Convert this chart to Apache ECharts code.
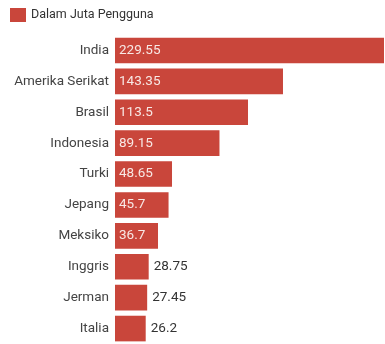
<!DOCTYPE html>
<html>
<head>
<meta charset="utf-8">
<script src="https://cdn.jsdelivr.net/npm/echarts@6/dist/echarts.min.js"></script>
<style>html,body{margin:0;padding:0;background:#fff;}#c{width:385px;height:344px;}</style>
</head>
<body>
<div id="c"></div>
<script>
const categories = ["India","Amerika Serikat","Brasil","Indonesia","Turki","Jepang","Meksiko","Inggris","Jerman","Italia"];
const values = [229.55,143.35,113.5,89.15,48.65,45.7,36.7,28.75,27.45,26.2];
const seriesName = "Dalam Juta Pengguna";
const insideThreshold = 30;

const chart = echarts.init(document.getElementById('c'), null, {renderer:'canvas'});
const data = values.map(v => ({
  value: v,
  label: v > insideThreshold
    ? {position:'insideLeft', color:'#f8e8e5', distance:4}
    : {position:'right', color:'#333', distance:5}
}));
chart.setOption({
  animation:false,
  legend:{
    data:[seriesName], left:5, top:3, itemWidth:16, itemHeight:14, itemGap:6,
    textStyle:{fontSize:12.5, color:'#333', fontFamily:'Roboto'}, icon:'rect'
  },
  grid:{left:115, right:1, top:35, height:312, containLabel:false},
  xAxis:{type:'value', min:0, max:229.55, show:false},
  yAxis:{
    type:'category', data:categories, inverse:true,
    axisLine:{show:false}, axisTick:{show:false},
    axisLabel:{fontSize:13.5, color:'#444', margin:6, fontFamily:'Roboto'}
  },
  series:[{
    name:seriesName, type:'bar', data:data, barCategoryGap:'17%',
    itemStyle:{color:'#c9463b'},
    label:{show:true, fontSize:13.5, fontFamily:'Roboto'}
  }]
});
</script>
</body>
</html>
